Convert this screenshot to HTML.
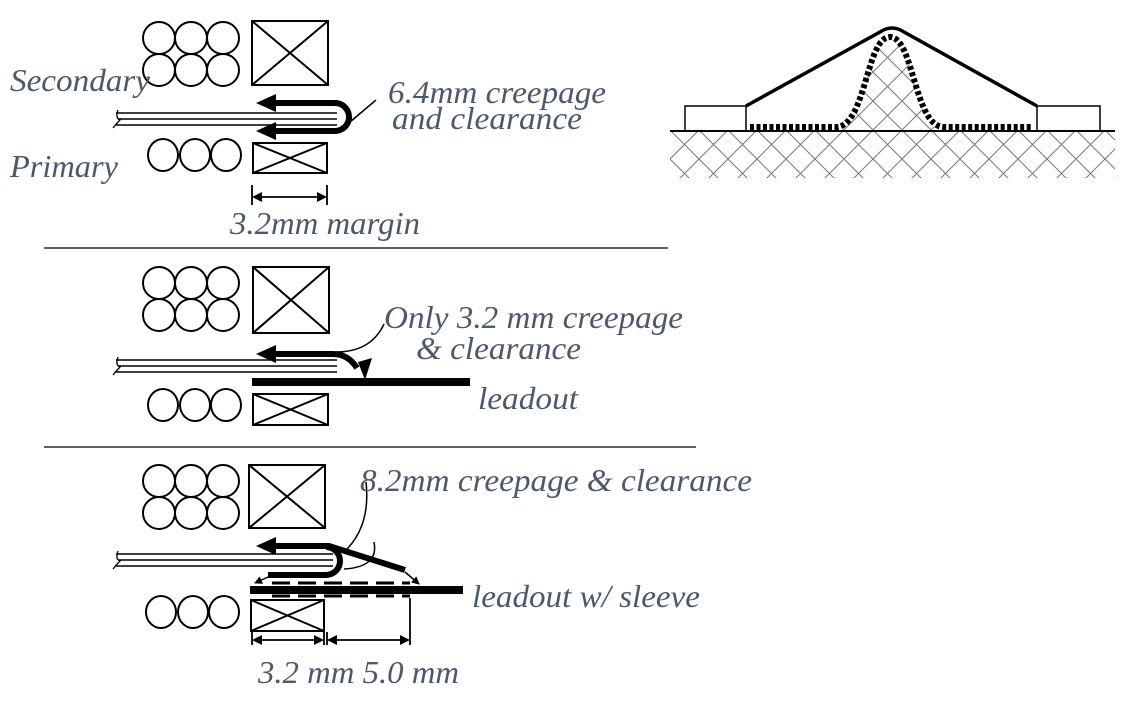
<!DOCTYPE html>
<html><head><meta charset="utf-8"><style>
html,body{margin:0;padding:0;background:#fff}
svg{display:block}
text{font-family:"Liberation Serif",serif;font-style:italic;fill:#4c586b;font-size:32px}
</style></head><body>
<svg width="1137" height="713" viewBox="0 0 1137 713" xmlns="http://www.w3.org/2000/svg">
<defs>
<pattern id="h" width="29" height="29" patternUnits="userSpaceOnUse" x="670" y="130">
<path d="M0 0L29 29M29 0L0 29" stroke="#777" stroke-width="1"/>
</pattern>
<marker id="ah" markerWidth="8" markerHeight="8" refX="7" refY="4" orient="auto" markerUnits="userSpaceOnUse"><path d="M0 0L8 4L0 8z" fill="#000"/></marker>
</defs>
<g fill="none" stroke="#000" stroke-width="2">
<circle cx="159" cy="38" r="16"/><circle cx="191" cy="38" r="16"/><circle cx="223" cy="38" r="16"/>
<circle cx="159" cy="70" r="16"/><circle cx="191" cy="70" r="16"/><circle cx="223" cy="70" r="16"/>
<rect x="252" y="21" width="76" height="64"/><path d="M252 21L328 85M328 21L252 85"/>
<ellipse cx="163" cy="155" rx="15" ry="16"/><ellipse cx="195" cy="155" rx="15" ry="16"/><ellipse cx="226" cy="155" rx="15" ry="16"/>
<rect x="253" y="143" width="74" height="30"/><path d="M253 143L327 173M327 143L253 173"/>
<path d="M116 113H337M118 119H337M116 125H337" stroke-width="1.6"/>
<path d="M118 110q-3 8 2 10q-4 4-7 8" stroke-width="1.3"/>
<path d="M274 103H335a14 14 0 0 1 0 28H274" stroke-width="6"/>
<path d="M350 122L376 100" stroke-width="1.5"/>
<path d="M252 185V205M327 185V205M258 197H321" stroke-width="1.8"/>
<line x1="44" y1="248" x2="668" y2="248" stroke-width="1.2"/>
<circle cx="159" cy="283" r="16"/><circle cx="191" cy="283" r="16"/><circle cx="223" cy="283" r="16"/>
<circle cx="159" cy="315" r="16"/><circle cx="191" cy="315" r="16"/><circle cx="223" cy="315" r="16"/>
<rect x="253" y="267" width="76" height="66"/><path d="M253 267L329 333M329 267L253 333"/>
<ellipse cx="163" cy="405" rx="15" ry="16"/><ellipse cx="195" cy="405" rx="15" ry="16"/><ellipse cx="226" cy="405" rx="15" ry="16"/>
<rect x="253" y="394" width="75" height="31"/><path d="M253 394L328 425M328 394L253 425"/>
<path d="M116 360H337M118 366H337M116 372H337" stroke-width="1.6"/>
<path d="M118 357q-3 8 2 10q-4 4-7 8" stroke-width="1.3"/>
<path d="M274 354H333q15 0 24 14" stroke-width="6"/>
<path d="M336 352q35 0 48 -28" stroke-width="1.5"/>
<rect x="252" y="378" width="218" height="8" fill="#000" stroke="none"/>
<line x1="44" y1="447" x2="696" y2="447" stroke-width="1.2"/>
<circle cx="159" cy="481" r="16"/><circle cx="191" cy="481" r="16"/><circle cx="223" cy="481" r="16"/>
<circle cx="159" cy="513" r="16"/><circle cx="191" cy="513" r="16"/><circle cx="223" cy="513" r="16"/>
<rect x="249" y="465" width="76" height="63"/><path d="M249 465L325 528M325 465L249 528"/>
<ellipse cx="161" cy="612" rx="15" ry="16"/><ellipse cx="193" cy="612" rx="15" ry="16"/><ellipse cx="224" cy="612" rx="15" ry="16"/>
<rect x="251" y="600" width="73" height="31"/><path d="M251 600L324 631M324 600L251 631"/>
<path d="M116 554H333M118 560H333M116 566H333" stroke-width="1.6"/>
<path d="M118 551q-3 8 2 10q-4 4-7 8" stroke-width="1.3"/>
<path d="M274 546H329L405 570" stroke-width="6"/>
<path d="M326 547a14 14 0 0 1 0 28H268" stroke-width="6"/>
<path d="M268 577L255 583" stroke-width="1.5" marker-end="url(#ah)"/>
<path d="M405 572L419 584" stroke-width="1.5" marker-end="url(#ah)"/>
<path d="M366 482q5 45 -22 70" stroke-width="1.5"/>
<path d="M374 542q5 25 -30 27" stroke-width="1.5"/>
<rect x="250" y="586" width="213" height="8" fill="#000" stroke="none"/>
<path d="M272 583H410M272 596H410" stroke-width="3" stroke-dasharray="18 8"/>
<path d="M252 632V645M324 632V645M327 632V645M410 598V645" stroke-width="1.8"/>
<path d="M258 640H318M333 640H404" stroke-width="1.8"/>
<path d="M670 130H1115V178H670z" fill="url(#h)" stroke="none"/>
<path d="M838 130C866 130 866 35 890 35C914 35 914 130 942 130z" fill="url(#h)" stroke="none"/>
<line x1="670" y1="131" x2="1115" y2="131" stroke-width="2"/>
<rect x="685" y="106" width="61" height="25" stroke-width="1.5"/>
<rect x="1037" y="106" width="63" height="25" stroke-width="1.5"/>
<path d="M746 106L880 32q12 -8 24 0L1037 106" stroke-width="3.5"/>
<path d="M750 127H836C866 127 866 37 890 37C914 37 914 127 944 127H1033" stroke-width="6" stroke-dasharray="4 2.5"/>
</g>
<g fill="#000" stroke="none">
<path d="M256 103L276 94V112z"/><path d="M256 131L276 122V140z"/>
<path d="M256 354L276 345V363z"/>
<path d="M358 362L372 358L365 380z"/>
<path d="M252 197L262 192V202z"/><path d="M327 197L317 192V202z"/>
<path d="M256 546L276 537V555z"/>
<path d="M252 640L262 635V645z"/><path d="M324 640L314 635V645z"/>
<path d="M327 640L337 635V645z"/><path d="M410 640L400 635V645z"/>
</g>
<text x="10" y="91" textLength="140" lengthAdjust="spacingAndGlyphs">Secondary</text>
<text x="10" y="177" textLength="108" lengthAdjust="spacingAndGlyphs">Primary</text>
<text x="388" y="103" textLength="218" lengthAdjust="spacingAndGlyphs">6.4mm creepage</text>
<text x="392" y="129" textLength="190" lengthAdjust="spacingAndGlyphs">and clearance</text>
<text x="230" y="234" textLength="190" lengthAdjust="spacingAndGlyphs">3.2mm margin</text>
<text x="384" y="328" textLength="299" lengthAdjust="spacingAndGlyphs">Only 3.2 mm creepage</text>
<text x="416" y="359" textLength="165" lengthAdjust="spacingAndGlyphs">&amp; clearance</text>
<text x="478" y="409" textLength="100" lengthAdjust="spacingAndGlyphs">leadout</text>
<text x="360" y="491" textLength="392" lengthAdjust="spacingAndGlyphs">8.2mm creepage &amp; clearance</text>
<text x="472" y="607" textLength="228" lengthAdjust="spacingAndGlyphs">leadout w/ sleeve</text>
<text x="258" y="683" textLength="201" lengthAdjust="spacingAndGlyphs">3.2 mm 5.0 mm</text>
</svg>
</body></html>
